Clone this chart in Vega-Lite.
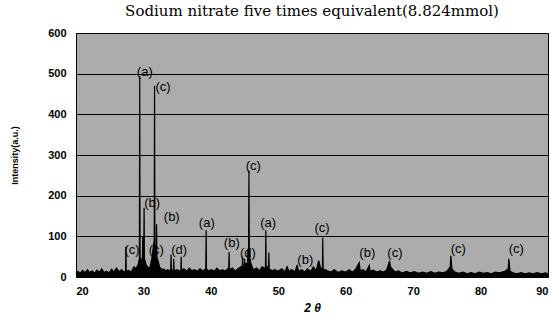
{
  "$schema": "https://vega.github.io/schema/vega-lite/v6.json",
  "width": 472,
  "height": 244,
  "autosize": {"type": "none"},
  "padding": {"left": 76, "top": 33, "right": 11, "bottom": 43},
  "background": "white",
  "config": {
    "view": {"fill": "#acacac", "stroke": "black", "strokeWidth": 1}
  },
  "title": {
    "text": "Sodium nitrate five times equivalent(8.824mmol)",
    "font": "DejaVu Serif",
    "fontSize": 15,
    "fontWeight": "normal",
    "color": "black",
    "offset": 8,
    "anchor": "middle"
  },
  "datasets": {
    "profile": [
      {"t": 20.0, "i": 8}, {"t": 20.3, "i": 14}, {"t": 20.6, "i": 9}, {"t": 21.0, "i": 16}, {"t": 21.3, "i": 10},
      {"t": 21.7, "i": 18}, {"t": 22.0, "i": 11}, {"t": 22.4, "i": 15}, {"t": 22.8, "i": 9}, {"t": 23.1, "i": 17},
      {"t": 23.5, "i": 12}, {"t": 23.8, "i": 20}, {"t": 24.2, "i": 11}, {"t": 24.5, "i": 14}, {"t": 24.9, "i": 10},
      {"t": 25.3, "i": 19}, {"t": 25.6, "i": 12}, {"t": 26.0, "i": 22}, {"t": 26.4, "i": 13}, {"t": 26.8, "i": 18},
      {"t": 27.1, "i": 12}, {"t": 27.35, "i": 14}, {"t": 27.4, "i": 75}, {"t": 27.45, "i": 14}, {"t": 27.8, "i": 16},
      {"t": 28.2, "i": 12}, {"t": 28.6, "i": 25}, {"t": 28.9, "i": 20}, {"t": 29.2, "i": 30}, {"t": 29.4, "i": 45},
      {"t": 29.45, "i": 495}, {"t": 29.5, "i": 50}, {"t": 29.7, "i": 40}, {"t": 29.85, "i": 45}, {"t": 29.9, "i": 100}, {"t": 29.95, "i": 45},
      {"t": 30.05, "i": 50}, {"t": 30.1, "i": 170}, {"t": 30.15, "i": 45}, {"t": 30.4, "i": 30}, {"t": 30.7, "i": 22}, {"t": 31.0, "i": 25},
      {"t": 31.3, "i": 50}, {"t": 31.5, "i": 80}, {"t": 31.6, "i": 90}, {"t": 31.65, "i": 470}, {"t": 31.7, "i": 80}, {"t": 31.9, "i": 60}, {"t": 31.95, "i": 130},
      {"t": 32.0, "i": 50}, {"t": 32.4, "i": 25}, {"t": 32.7, "i": 18}, {"t": 33.0, "i": 20}, {"t": 33.3, "i": 15},
      {"t": 33.6, "i": 18}, {"t": 34.05, "i": 14}, {"t": 34.1, "i": 55}, {"t": 34.15, "i": 14}, {"t": 34.4, "i": 18}, {"t": 34.45, "i": 16},
      {"t": 34.5, "i": 45}, {"t": 34.55, "i": 15}, {"t": 35.0, "i": 18}, {"t": 35.4, "i": 14}, {"t": 35.55, "i": 16}, {"t": 35.6, "i": 50},
      {"t": 35.65, "i": 16}, {"t": 36.0, "i": 20}, {"t": 36.4, "i": 14}, {"t": 36.8, "i": 22}, {"t": 37.2, "i": 15},
      {"t": 37.6, "i": 18}, {"t": 38.0, "i": 14}, {"t": 38.4, "i": 20}, {"t": 38.8, "i": 15}, {"t": 39.25, "i": 20},
      {"t": 39.3, "i": 115}, {"t": 39.35, "i": 20}, {"t": 39.7, "i": 15}, {"t": 40.1, "i": 18}, {"t": 40.5, "i": 14},
      {"t": 40.9, "i": 22}, {"t": 41.3, "i": 15}, {"t": 41.7, "i": 18}, {"t": 42.1, "i": 14}, {"t": 42.5, "i": 20}, {"t": 42.65, "i": 20},
      {"t": 42.7, "i": 62}, {"t": 42.75, "i": 18}, {"t": 43.2, "i": 22}, {"t": 43.6, "i": 15}, {"t": 44.0, "i": 20},
      {"t": 44.4, "i": 25}, {"t": 44.65, "i": 25}, {"t": 44.7, "i": 50}, {"t": 44.75, "i": 25}, {"t": 44.95, "i": 25}, {"t": 45.0, "i": 45}, {"t": 45.05, "i": 30},
      {"t": 45.45, "i": 35}, {"t": 45.5, "i": 70}, {"t": 45.6, "i": 60}, {"t": 45.65, "i": 262}, {"t": 45.7, "i": 60}, {"t": 45.85, "i": 40}, {"t": 46.0, "i": 30}, {"t": 46.3, "i": 18},
      {"t": 46.8, "i": 22}, {"t": 47.2, "i": 15}, {"t": 47.6, "i": 25}, {"t": 48.1, "i": 20}, {"t": 48.15, "i": 115},
      {"t": 48.2, "i": 25}, {"t": 48.55, "i": 25}, {"t": 48.6, "i": 60}, {"t": 48.65, "i": 20}, {"t": 49.1, "i": 15}, {"t": 49.5, "i": 18},
      {"t": 50.0, "i": 14}, {"t": 50.5, "i": 20}, {"t": 51.0, "i": 13}, {"t": 51.3, "i": 25}, {"t": 51.6, "i": 14},
      {"t": 52.0, "i": 18}, {"t": 52.5, "i": 13}, {"t": 52.8, "i": 30}, {"t": 53.0, "i": 14}, {"t": 53.5, "i": 18},
      {"t": 53.9, "i": 12}, {"t": 54.3, "i": 20}, {"t": 54.8, "i": 14}, {"t": 55.2, "i": 25}, {"t": 55.6, "i": 15},
      {"t": 56.0, "i": 40}, {"t": 56.3, "i": 20}, {"t": 56.55, "i": 22}, {"t": 56.6, "i": 97}, {"t": 56.65, "i": 20}, {"t": 57.2, "i": 16},
      {"t": 57.8, "i": 12}, {"t": 58.3, "i": 18}, {"t": 58.9, "i": 11}, {"t": 59.4, "i": 15}, {"t": 60.0, "i": 12},
      {"t": 60.5, "i": 18}, {"t": 61.0, "i": 12}, {"t": 61.5, "i": 20}, {"t": 62.0, "i": 35}, {"t": 62.15, "i": 15},
      {"t": 62.6, "i": 18}, {"t": 63.0, "i": 12}, {"t": 63.5, "i": 28}, {"t": 63.6, "i": 14}, {"t": 64.1, "i": 17},
      {"t": 64.6, "i": 12}, {"t": 65.1, "i": 15}, {"t": 65.6, "i": 12}, {"t": 66.1, "i": 18}, {"t": 66.5, "i": 40},
      {"t": 66.65, "i": 25}, {"t": 66.9, "i": 20}, {"t": 67.3, "i": 12}, {"t": 67.8, "i": 15}, {"t": 68.4, "i": 10},
      {"t": 69.0, "i": 14}, {"t": 69.6, "i": 10}, {"t": 70.2, "i": 13}, {"t": 70.8, "i": 9}, {"t": 71.4, "i": 12},
      {"t": 72.0, "i": 9}, {"t": 72.6, "i": 13}, {"t": 73.2, "i": 9}, {"t": 73.8, "i": 12}, {"t": 74.4, "i": 10},
      {"t": 75.0, "i": 14}, {"t": 75.5, "i": 25}, {"t": 75.6, "i": 52}, {"t": 75.75, "i": 20}, {"t": 76.2, "i": 12},
      {"t": 76.8, "i": 9}, {"t": 77.4, "i": 12}, {"t": 78.0, "i": 8}, {"t": 78.6, "i": 11}, {"t": 79.2, "i": 8},
      {"t": 79.8, "i": 12}, {"t": 80.4, "i": 9}, {"t": 81.0, "i": 11}, {"t": 81.6, "i": 8}, {"t": 82.2, "i": 12},
      {"t": 82.8, "i": 10}, {"t": 83.6, "i": 14}, {"t": 84.1, "i": 20}, {"t": 84.2, "i": 45}, {"t": 84.35, "i": 15},
      {"t": 84.8, "i": 10}, {"t": 85.4, "i": 8}, {"t": 86.0, "i": 11}, {"t": 86.6, "i": 8}, {"t": 87.2, "i": 10},
      {"t": 87.8, "i": 8}, {"t": 88.4, "i": 11}, {"t": 89.0, "i": 8}, {"t": 89.6, "i": 10}, {"t": 90.0, "i": 8}
    ],
    "labels": [
      {"t": 30.2, "i": 504, "label": "(a)"},
      {"t": 32.9, "i": 467, "label": "(c)"},
      {"t": 31.3, "i": 182, "label": "(b)"},
      {"t": 28.3, "i": 66, "label": "(c)"},
      {"t": 31.9, "i": 66, "label": "(c)"},
      {"t": 35.3, "i": 66, "label": "(d)"},
      {"t": 34.2, "i": 148, "label": "(b)"},
      {"t": 39.4, "i": 133, "label": "(a)"},
      {"t": 43.1, "i": 84, "label": "(b)"},
      {"t": 45.5, "i": 59, "label": "(d)"},
      {"t": 46.3, "i": 273, "label": "(c)"},
      {"t": 48.5, "i": 133, "label": "(a)"},
      {"t": 54.0, "i": 42, "label": "(b)"},
      {"t": 56.5, "i": 120, "label": "(c)"},
      {"t": 63.2, "i": 59, "label": "(b)"},
      {"t": 67.3, "i": 59, "label": "(c)"},
      {"t": 76.7, "i": 69, "label": "(c)"},
      {"t": 85.3, "i": 69, "label": "(c)"}
    ]
  },
  "layer": [
    {
      "data": {"name": "profile"},
      "mark": {"type": "area", "color": "black", "fill": "black", "opacity": 1, "line": {"color": "black", "strokeWidth": 1.2}},
      "encoding": {
        "x": {
          "field": "t", "type": "quantitative",
          "scale": {"domain": [20, 90], "nice": false},
          "axis": {
            "title": "2 θ",
            "values": [20, 30, 40, 50, 60, 70, 80, 90],
            "grid": false,
            "ticks": false,
            "domain": false,
            "labelFont": "Liberation Sans",
            "labelFontSize": 11,
            "labelFontWeight": "bold",
            "labelColor": "black",
            "labelPadding": 8,
            "titleFont": "Liberation Sans",
            "titleFontSize": 12,
            "titleFontWeight": "bold",
            "titleFontStyle": "italic",
            "titleColor": "black",
            "titlePadding": 6
          }
        },
        "y": {
          "field": "i", "type": "quantitative",
          "scale": {"domain": [0, 600], "nice": false},
          "axis": {
            "title": "Intensity(a.u.)",
            "values": [0, 100, 200, 300, 400, 500, 600],
            "grid": true,
            "gridColor": "black",
            "gridOpacity": 1,
            "gridWidth": 1,
            "ticks": false,
            "domain": false,
            "labelFont": "Liberation Sans",
            "labelFontSize": 11,
            "labelFontWeight": "bold",
            "labelColor": "black",
            "labelPadding": 10,
            "titleFont": "Liberation Sans",
            "titleFontSize": 9,
            "titleFontWeight": "bold",
            "titleColor": "black",
            "titlePadding": 28
          }
        }
      }
    },
    {
      "data": {"name": "labels"},
      "mark": {"type": "text", "font": "Liberation Sans", "fontSize": 13, "fill": "black", "opacity": 1, "baseline": "middle", "align": "center"},
      "encoding": {
        "x": {"field": "t", "type": "quantitative"},
        "y": {"field": "i", "type": "quantitative"},
        "text": {"field": "label"}
      }
    }
  ]
}
